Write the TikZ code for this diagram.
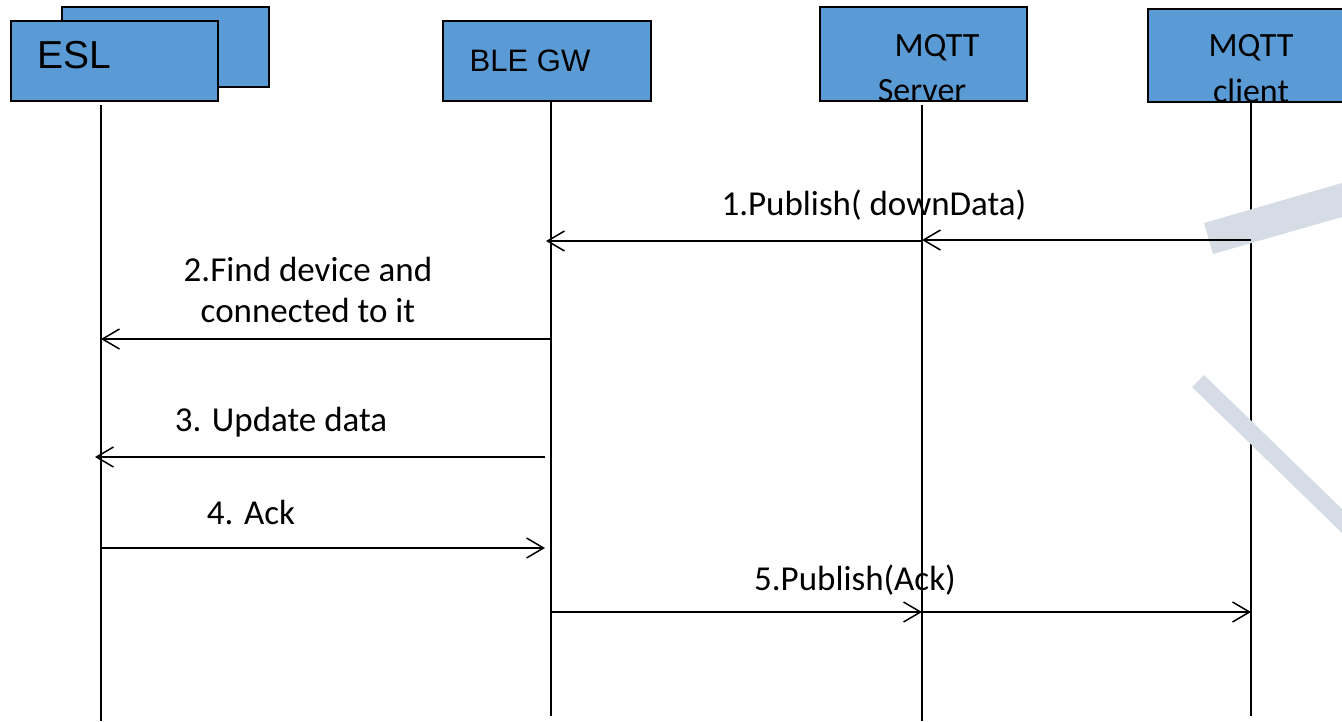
\documentclass[tikz,border=0pt]{standalone}
\usepackage{fontspec}
\setmainfont{Carlito}
\newfontfamily\arialf{Liberation Sans}
\usetikzlibrary{arrows.meta}
\definecolor{boxblue}{HTML}{5B9BD5}
\definecolor{bandgray}{HTML}{D6DCE5}
\begin{document}
\begin{tikzpicture}[x=1pt,y=-1pt,
  box/.style={draw=black, line width=1.6pt, fill=boxblue, inner sep=0pt, anchor=north west},
  life/.style={line width=1.8pt},
  msg/.style={line width=1.5pt, -{Straight Barb[length=17pt,width=20pt,line width=1.5pt]}},
  lbl/.style={font=\fontsize{35}{41}\selectfont, inner sep=0pt, align=center},
  boxtxt/.style={font=\fontsize{34}{41}\selectfont, inner sep=0pt, align=center},
  band/.style={fill=bandgray}]
\useasboundingbox (0,0) rectangle (1342,721);
% boxes
\node[box, minimum width=207pt, minimum height=80pt] (eslback) at (61,6) {};
\node[box, minimum width=207pt, minimum height=80pt] (esl) at (10,20) {};
\node[box, minimum width=208pt, minimum height=80pt] (gw) at (442,20) {};
\node[box, minimum width=207pt, minimum height=94pt] (srv) at (819,6) {};
\node[box, minimum width=200pt, minimum height=93pt] (cli) at (1147,8) {};
% box texts
\node[inner sep=0pt, anchor=base west, font=\arialf\fontsize{39}{44}\selectfont] (esltxt) at (37,68) {ESL};
\node[inner sep=0pt, anchor=base, font=\arialf\fontsize{31}{36}\selectfont] (gwtxt) at (530,71) {BLE GW};
\node[boxtxt, anchor=base] (srvtxt1) at (937,56) {MQTT};
\node[boxtxt, anchor=base] (srvtxt2) at (922,101) {Server};
\node[boxtxt, anchor=base] (clitxt1) at (1251,56) {MQTT};
\node[boxtxt, anchor=base] (clitxt2) at (1251,102) {client};
% lifelines
\coordinate (eslT) at (101,105); \coordinate (eslB) at (101,721);
\coordinate (gwT) at (551,100); \coordinate (gwB) at (551,716);
\coordinate (srvT) at (922,105); \coordinate (srvB) at (922,721);
\coordinate (cliT) at (1251,100); \coordinate (cliB) at (1251,716);
\draw[life] (eslT) -- (eslB);
\draw[life] (gwT) -- (gwB);
\draw[life] (srvT) -- (srvB);
\draw[life] (cliT) -- (cliB);
% bands
\fill[band] (1204,223) -- (1342,183) -- (1342,217) -- (1213,254) -- cycle;
\fill[band] (1192,387) -- (1204,375) -- (1342,509) -- (1342,533) -- cycle;
% messages
\coordinate (m1a) at (1251,240); \coordinate (m1b) at (922,240);
\coordinate (m1c) at (922,241); \coordinate (m1d) at (546,241);
\draw[msg] (m1a) -- (m1b);
\draw[msg] (m1c) -- (m1d);
\node[lbl] (l1) at (874,205) {1.Publish( downData)};
\coordinate (m2a) at (551,339); \coordinate (m2b) at (101,339);
\draw[msg] (m2a) -- (m2b);
\node[lbl] (l2) at (308,290) {2.Find device and\\connected to it};
\coordinate (m3a) at (545,457); \coordinate (m3b) at (95,457);
\draw[msg] (m3a) -- (m3b);
\node[lbl] (l3) at (281,422) {3. Update data};
\coordinate (m4a) at (101,548); \coordinate (m4b) at (545,548);
\draw[msg] (m4a) -- (m4b);
\node[lbl] (l4) at (251,512) {4. Ack};
\coordinate (m5a) at (551,612); \coordinate (m5b) at (922,612);
\coordinate (m5c) at (922,612); \coordinate (m5d) at (1251,612);
\draw[msg] (m5a) -- (m5b);
\draw[msg] (m5c) -- (m5d);
\node[lbl] (l5) at (855,580) {5.Publish(Ack)};
\end{tikzpicture}
\end{document}
